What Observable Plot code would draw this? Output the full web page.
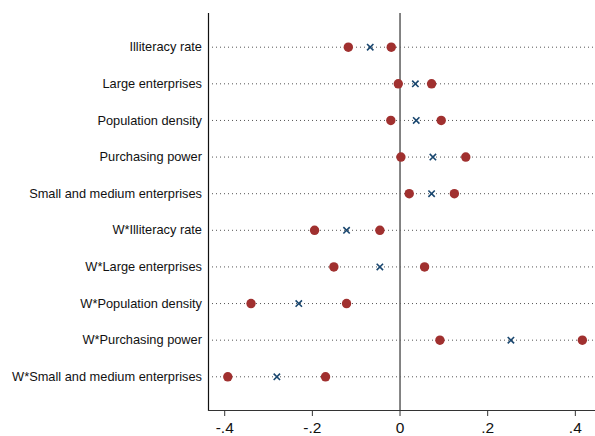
<!DOCTYPE html>
<html>
<head>
<meta charset="utf-8">
<script src="https://cdn.jsdelivr.net/npm/d3@7"></script>
<script src="https://cdn.jsdelivr.net/npm/@observablehq/plot@0.6"></script>
<style>
  html, body { margin: 0; padding: 0; background: #fff; }
  #chart svg { display: block; font-family: "Liberation Sans", Arial, sans-serif; }
</style>
</head>
<body>
<div id="chart"></div>
<script>
const labels = [
  "Illiteracy rate",
  "Large enterprises",
  "Population density",
  "Purchasing power",
  "Small and medium enterprises",
  "W*Illiteracy rate",
  "W*Large enterprises",
  "W*Population density",
  "W*Purchasing power",
  "W*Small and medium enterprises"
];
const estimate = [-0.068, 0.035, 0.037, 0.075, 0.072, -0.122, -0.046, -0.231, 0.253, -0.281];
const lower    = [-0.118, -0.004, -0.021, 0.002, 0.021, -0.195, -0.151, -0.340, 0.091, -0.393];
const upper    = [-0.020, 0.072, 0.094, 0.150, 0.124, -0.046, 0.056, -0.122, 0.416, -0.170];
const xTicks = [-0.4, -0.2, 0, 0.2, 0.4];
const xTickLabels = ["-.4", "-.2", "0", ".2", ".4"];
const xDomain = [-0.437, 0.446];

const rows = labels.map((label, i) => ({label, est: estimate[i], lo: lower[i], hi: upper[i]}));
const bounds = rows.flatMap(d => [{label: d.label, v: d.lo}, {label: d.label, v: d.hi}]);

const fmt = d => {
  const i = xTicks.findIndex(t => Math.abs(t - d) < 1e-9);
  return i >= 0 ? xTickLabels[i] : "";
};

const chart = Plot.plot({
  width: 595,
  height: 436,
  marginLeft: 208,
  marginRight: 0,
  marginTop: 13,
  marginBottom: 26,
  style: {fontFamily: "'Liberation Sans', Arial, sans-serif", background: "#fff"},
  x: {domain: xDomain},
  y: {domain: labels, type: "point", padding: 0.92, round: false},
  marks: [
    Plot.ruleY(rows, {y: "label", stroke: "#555", strokeWidth: 1, strokeDasharray: "1,3"}),
    Plot.ruleX([0], {stroke: "#666", strokeWidth: 1.6}),
    Plot.ruleX([xDomain[0]], {stroke: "#111", strokeWidth: 1.2}),
    Plot.frame({anchor: "bottom", stroke: "#333", strokeWidth: 1.2}),
    Plot.axisX({ticks: xTicks, tickFormat: fmt, tickSize: 6, tickPadding: 5, fontSize: 15.5, stroke: "#333", fill: "#111", label: null}),
    Plot.axisY({tickSize: 0, tickPadding: 6.5, fontSize: 12.8, fill: "#111", label: null}),
    Plot.dot(bounds, {x: "v", y: "label", r: 4.7, fill: "#a0302f", stroke: "none"}),
    Plot.dot(rows, {x: "est", y: "label", symbol: "times", r: 3.0, stroke: "#1a476f", strokeWidth: 1.6, fill: "none"})
  ]
});
document.getElementById("chart").appendChild(chart);
</script>
</body>
</html>
